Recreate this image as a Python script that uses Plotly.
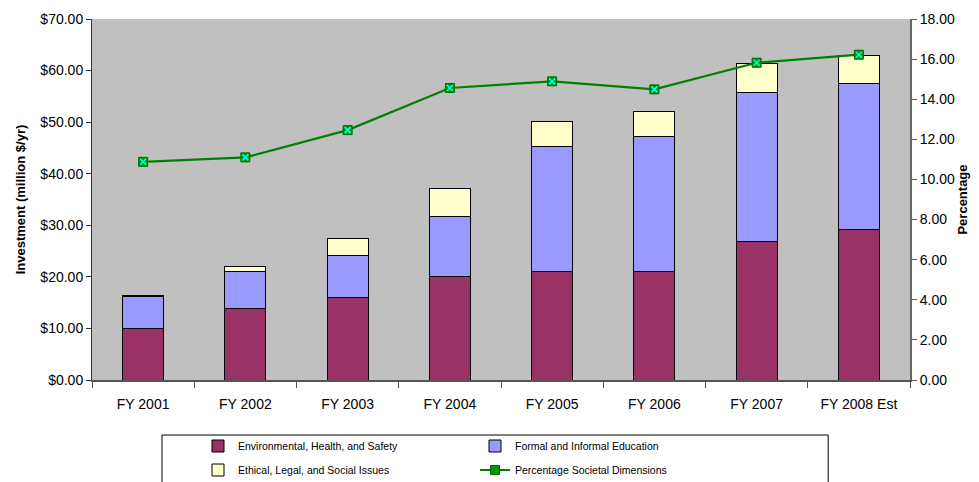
import plotly.graph_objects as go

categories = ["FY 2001", "FY 2002", "FY 2003", "FY 2004", "FY 2005", "FY 2006", "FY 2007", "FY 2008 Est"]
ehs = [10.0, 13.9, 16.0, 20.0, 21.0, 21.0, 26.8, 29.1]
education = [6.1, 7.1, 8.1, 11.8, 24.2, 26.2, 28.9, 28.3]
elsi = [0.3, 1.1, 3.4, 5.3, 4.9, 4.8, 5.6, 5.5]
percentage = [10.88, 11.1, 12.46, 14.56, 14.89, 14.49, 15.82, 16.22]

left_ticks = [0, 10, 20, 30, 40, 50, 60, 70]
left_tick_labels = ["$0.00", "$10.00", "$20.00", "$30.00", "$40.00", "$50.00", "$60.00", "$70.00"]
right_ticks = [0, 2, 4, 6, 8, 10, 12, 14, 16, 18]
right_tick_labels = ["0.00", "2.00", "4.00", "6.00", "8.00", "10.00", "12.00", "14.00", "16.00", "18.00"]

FONT = "Liberation Sans, Arial, sans-serif"

fig = go.Figure()
fig.add_trace(go.Bar(x=categories, y=ehs, name="Environmental, Health, and Safety", legend="legend",
                     marker=dict(color="#993366", line=dict(color="#000000", width=1))))
fig.add_trace(go.Bar(x=categories, y=education, name="Formal and Informal Education", legend="legend",
                     marker=dict(color="#9999FF", line=dict(color="#000000", width=1))))
fig.add_trace(go.Bar(x=categories, y=elsi, name="Ethical, Legal, and Social Issues", legend="legend2",
                     marker=dict(color="#FFFFCC", line=dict(color="#000000", width=1))))
fig.add_trace(go.Scatter(x=categories, y=percentage, name="Percentage Societal Dimensions",
                         yaxis="y2", mode="lines+markers", legend="legend2",
                         line=dict(color="#008000", width=2.2),
                         marker=dict(symbol="square", size=9, color="#009900",
                                     line=dict(color="#006600", width=1))))
fig.add_trace(go.Scatter(x=categories, y=percentage, yaxis="y2", mode="markers",
                         showlegend=False, hoverinfo="skip",
                         marker=dict(symbol="x-thin", size=6, color="#00FFFF",
                                     line=dict(color="#00FFFF", width=1.5))))

legend_common = dict(orientation="h", xanchor="left", yanchor="middle",
                     entrywidth=232, entrywidthmode="pixels",
                     font=dict(family=FONT, size=10.5, color="#000000"),
                     traceorder="normal", bgcolor="rgba(0,0,0,0)")

# The page body adds an 8px offset, so the figure is 8px smaller and margins shifted.
fig.update_layout(
    width=971, height=474,
    margin=dict(l=84, r=69, t=11, b=102, autoexpand=False),
    paper_bgcolor="white",
    plot_bgcolor="#C0C0C0",
    barmode="stack",
    bargap=0.6,
    font=dict(family=FONT, size=14, color="#000000"),
    xaxis=dict(type="category", showgrid=False, showline=True, linecolor="#555555", linewidth=2,
               ticks="outside", tickson="boundaries", ticklen=6, tickcolor="#555555",
               tickfont=dict(size=14), zeroline=False, ticklabelstandoff=10),
    yaxis=dict(range=[0, 70], tickvals=left_ticks, ticktext=left_tick_labels,
               showgrid=False, showline=True, linecolor="#333333", linewidth=1,
               ticks="outside", ticklen=5, tickcolor="#333333", zeroline=False,
               tickfont=dict(size=14),
               title=dict(text="<b>Investment (million $/yr)</b>", font=dict(size=13), standoff=11)),
    yaxis2=dict(range=[0, 18], tickvals=right_ticks, ticktext=right_tick_labels,
                overlaying="y", side="right",
                showgrid=False, showline=True, linecolor="#666666", linewidth=2,
                ticks="outside", ticklen=5, tickcolor="#666666", zeroline=False,
                tickfont=dict(size=14),
                title=dict(text="<b>Percentage</b>", font=dict(size=13), standoff=4)),
    legend=dict(x=0.1296, y=-(446 - 380) / 361, **legend_common),
    legend2=dict(x=0.1296, y=-(470 - 380) / 361, **legend_common),
    shapes=[dict(type="rect", xref="paper", yref="paper", x0=0.0856, x1=0.9,
                 y0=-0.4, y1=-0.1524, line=dict(color="#000000", width=1), layer="below")],
)

fig.write_html("out.html")
